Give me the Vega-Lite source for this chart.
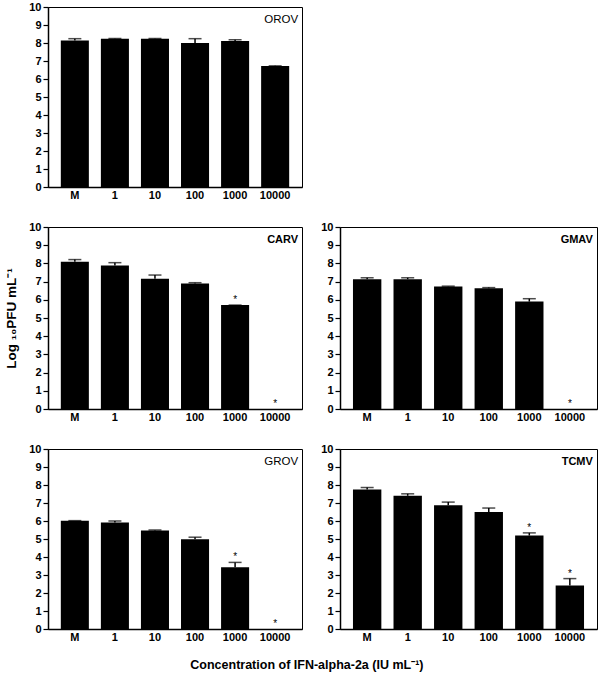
{
  "$schema": "https://vega.github.io/schema/vega-lite/v6.json",
  "padding": {"left": 4, "top": 0, "right": 2, "bottom": 2},
  "config": {
    "font": "Liberation Sans",
    "view": {"stroke": "#000", "strokeWidth": 1},
    "axis": {"grid": false, "domainColor": "#000", "domainWidth": 1.5, "tickColor": "#000", "tickWidth": 1.2, "labelColor": "#000", "labelFont": "Liberation Sans", "labelFontWeight": "bold", "labelFontSize": 11, "labelOverlap": false, "titleFont": "Liberation Sans", "titleFontWeight": "bold", "titleColor": "#000"},
    "axisY": {"tickSize": 5, "labelPadding": 2, "labelOverlap": false},
    "concat": {"spacing": 19}
  },
  "datasets": {
    "d": [
      {"virus": "OROV", "conc": "M", "mean": 8.14, "upper": 8.24, "star": ""},
      {"virus": "OROV", "conc": "1", "mean": 8.23, "upper": 8.25, "star": ""},
      {"virus": "OROV", "conc": "10", "mean": 8.23, "upper": 8.25, "star": ""},
      {"virus": "OROV", "conc": "100", "mean": 8.0, "upper": 8.24, "star": ""},
      {"virus": "OROV", "conc": "1000", "mean": 8.11, "upper": 8.18, "star": ""},
      {"virus": "OROV", "conc": "10000", "mean": 6.72, "upper": 6.73, "star": ""},
      {"virus": "CARV", "conc": "M", "mean": 8.09, "upper": 8.21, "star": ""},
      {"virus": "CARV", "conc": "1", "mean": 7.88, "upper": 8.04, "star": ""},
      {"virus": "CARV", "conc": "10", "mean": 7.16, "upper": 7.36, "star": ""},
      {"virus": "CARV", "conc": "100", "mean": 6.89, "upper": 6.94, "star": ""},
      {"virus": "CARV", "conc": "1000", "mean": 5.71, "upper": 5.71, "star": "*"},
      {"virus": "CARV", "conc": "10000", "mean": 0, "upper": 0, "star": "*"},
      {"virus": "GMAV", "conc": "M", "mean": 7.13, "upper": 7.21, "star": ""},
      {"virus": "GMAV", "conc": "1", "mean": 7.13, "upper": 7.21, "star": ""},
      {"virus": "GMAV", "conc": "10", "mean": 6.73, "upper": 6.75, "star": ""},
      {"virus": "GMAV", "conc": "100", "mean": 6.64, "upper": 6.67, "star": ""},
      {"virus": "GMAV", "conc": "1000", "mean": 5.9, "upper": 6.06, "star": ""},
      {"virus": "GMAV", "conc": "10000", "mean": 0, "upper": 0, "star": "*"},
      {"virus": "GROV", "conc": "M", "mean": 6.02, "upper": 6.02, "star": ""},
      {"virus": "GROV", "conc": "1", "mean": 5.91, "upper": 6.0, "star": ""},
      {"virus": "GROV", "conc": "10", "mean": 5.47, "upper": 5.5, "star": ""},
      {"virus": "GROV", "conc": "100", "mean": 4.99, "upper": 5.1, "star": ""},
      {"virus": "GROV", "conc": "1000", "mean": 3.43, "upper": 3.7, "star": "*"},
      {"virus": "GROV", "conc": "10000", "mean": 0, "upper": 0, "star": "*"},
      {"virus": "TCMV", "conc": "M", "mean": 7.75, "upper": 7.86, "star": ""},
      {"virus": "TCMV", "conc": "1", "mean": 7.4, "upper": 7.51, "star": ""},
      {"virus": "TCMV", "conc": "10", "mean": 6.88, "upper": 7.05, "star": ""},
      {"virus": "TCMV", "conc": "100", "mean": 6.5, "upper": 6.72, "star": ""},
      {"virus": "TCMV", "conc": "1000", "mean": 5.19, "upper": 5.34, "star": "*"},
      {"virus": "TCMV", "conc": "10000", "mean": 2.42, "upper": 2.8, "star": "*"}
    ]
  },
  "title": {"text": "Concentration of IFN-alpha-2a (IU mL⁻¹)", "orient": "bottom", "anchor": "middle", "fontSize": 12.5, "fontWeight": "bold", "offset": 16, "dx": 6, "color": "#000"},
  "vconcat": [
    {
      "width": 254, "height": 180,
      "data": {"name": "d"},
      "transform": [{"filter": "datum.virus === 'OROV'"}],
      "encoding": {
        "x": {"field": "conc", "type": "ordinal", "sort": ["M", "1", "10", "100", "1000", "10000"], "scale": {"paddingInner": 0.3, "paddingOuter": 0.32}, "axis": {"title": null, "labelAngle": 0, "ticks": false, "labelPadding": 2}}
      },
      "layer": [
        {"mark": {"type": "bar", "color": "#000"}, "encoding": {"y": {"field": "mean", "type": "quantitative", "scale": {"domain": [0, 10], "nice": false}, "axis": {"values": [0, 1, 2, 3, 4, 5, 6, 7, 8, 9, 10], "labelOverlap": false, "title": null}}}},
        {"mark": {"type": "rule", "color": "#000", "strokeWidth": 1.5}, "encoding": {"y": {"field": "mean", "type": "quantitative", "axis": {"values": [0, 1, 2, 3, 4, 5, 6, 7, 8, 9, 10], "labelOverlap": false, "title": null}}, "y2": {"field": "upper"}}},
        {"transform": [{"filter": "datum.upper > 0"}], "mark": {"type": "tick", "color": "#000", "thickness": 1.5, "size": 13}, "encoding": {"y": {"field": "upper", "type": "quantitative", "axis": {"values": [0, 1, 2, 3, 4, 5, 6, 7, 8, 9, 10], "labelOverlap": false, "title": null}}}},
        {"mark": {"type": "text", "baseline": "alphabetic", "dy": -2, "fontSize": 10, "color": "#000"}, "encoding": {"y": {"field": "upper", "type": "quantitative", "axis": {"values": [0, 1, 2, 3, 4, 5, 6, 7, 8, 9, 10], "labelOverlap": false, "title": null}}, "text": {"field": "star"}}},
        {"transform": [{"filter": "datum.conc === 'M'"}], "mark": {"type": "text", "align": "right", "baseline": "middle", "fontSize": 11.5, "fontWeight": "normal", "dx": 23, "color": "#000"}, "encoding": {"x": {"datum": "10000"}, "y": {"datum": 9.3, "type": "quantitative", "axis": {"values": [0, 1, 2, 3, 4, 5, 6, 7, 8, 9, 10], "labelOverlap": false, "title": null}}, "text": {"field": "virus"}}}
      ]
    },
    {
      "spacing": 17,
      "hconcat": [
        {
          "width": 254, "height": 182,
          "data": {"name": "d"},
          "transform": [{"filter": "datum.virus === 'CARV'"}],
          "encoding": {
            "x": {"field": "conc", "type": "ordinal", "sort": ["M", "1", "10", "100", "1000", "10000"], "scale": {"paddingInner": 0.3, "paddingOuter": 0.32}, "axis": {"title": null, "labelAngle": 0, "ticks": false, "labelPadding": 2}}
          },
          "layer": [
            {"mark": {"type": "bar", "color": "#000"}, "encoding": {"y": {"field": "mean", "type": "quantitative", "scale": {"domain": [0, 10], "nice": false}, "axis": {"values": [0, 1, 2, 3, 4, 5, 6, 7, 8, 9, 10], "labelOverlap": false, "title": "Log ₁₀PFU mL⁻¹", "titleFontSize": 13.5, "titlePadding": 10}}}},
            {"mark": {"type": "rule", "color": "#000", "strokeWidth": 1.5}, "encoding": {"y": {"field": "mean", "type": "quantitative", "axis": {"values": [0, 1, 2, 3, 4, 5, 6, 7, 8, 9, 10], "labelOverlap": false, "title": "Log ₁₀PFU mL⁻¹", "titleFontSize": 13.5, "titlePadding": 10}}, "y2": {"field": "upper"}}},
            {"transform": [{"filter": "datum.upper > 0"}], "mark": {"type": "tick", "color": "#000", "thickness": 1.5, "size": 13}, "encoding": {"y": {"field": "upper", "type": "quantitative", "axis": {"values": [0, 1, 2, 3, 4, 5, 6, 7, 8, 9, 10], "labelOverlap": false, "title": "Log ₁₀PFU mL⁻¹", "titleFontSize": 13.5, "titlePadding": 10}}}},
            {"mark": {"type": "text", "baseline": "alphabetic", "dy": -2, "fontSize": 10, "color": "#000"}, "encoding": {"y": {"field": "upper", "type": "quantitative", "axis": {"values": [0, 1, 2, 3, 4, 5, 6, 7, 8, 9, 10], "labelOverlap": false, "title": "Log ₁₀PFU mL⁻¹", "titleFontSize": 13.5, "titlePadding": 10}}, "text": {"field": "star"}}},
            {"transform": [{"filter": "datum.conc === 'M'"}], "mark": {"type": "text", "align": "right", "baseline": "middle", "fontSize": 11, "fontWeight": "bold", "dx": 23, "color": "#000"}, "encoding": {"x": {"datum": "10000"}, "y": {"datum": 9.3, "type": "quantitative", "axis": {"values": [0, 1, 2, 3, 4, 5, 6, 7, 8, 9, 10], "labelOverlap": false, "title": "Log ₁₀PFU mL⁻¹", "titleFontSize": 13.5, "titlePadding": 10}}, "text": {"field": "virus"}}}
          ]
        },
        {
          "width": 257, "height": 182,
          "data": {"name": "d"},
          "transform": [{"filter": "datum.virus === 'GMAV'"}],
          "encoding": {
            "x": {"field": "conc", "type": "ordinal", "sort": ["M", "1", "10", "100", "1000", "10000"], "scale": {"paddingInner": 0.3, "paddingOuter": 0.32}, "axis": {"title": null, "labelAngle": 0, "ticks": false, "labelPadding": 2}}
          },
          "layer": [
            {"mark": {"type": "bar", "color": "#000"}, "encoding": {"y": {"field": "mean", "type": "quantitative", "scale": {"domain": [0, 10], "nice": false}, "axis": {"values": [0, 1, 2, 3, 4, 5, 6, 7, 8, 9, 10], "labelOverlap": false, "title": null}}}},
            {"mark": {"type": "rule", "color": "#000", "strokeWidth": 1.5}, "encoding": {"y": {"field": "mean", "type": "quantitative", "axis": {"values": [0, 1, 2, 3, 4, 5, 6, 7, 8, 9, 10], "labelOverlap": false, "title": null}}, "y2": {"field": "upper"}}},
            {"transform": [{"filter": "datum.upper > 0"}], "mark": {"type": "tick", "color": "#000", "thickness": 1.5, "size": 13}, "encoding": {"y": {"field": "upper", "type": "quantitative", "axis": {"values": [0, 1, 2, 3, 4, 5, 6, 7, 8, 9, 10], "labelOverlap": false, "title": null}}}},
            {"mark": {"type": "text", "baseline": "alphabetic", "dy": -2, "fontSize": 10, "color": "#000"}, "encoding": {"y": {"field": "upper", "type": "quantitative", "axis": {"values": [0, 1, 2, 3, 4, 5, 6, 7, 8, 9, 10], "labelOverlap": false, "title": null}}, "text": {"field": "star"}}},
            {"transform": [{"filter": "datum.conc === 'M'"}], "mark": {"type": "text", "align": "right", "baseline": "middle", "fontSize": 11, "fontWeight": "bold", "dx": 23, "color": "#000"}, "encoding": {"x": {"datum": "10000"}, "y": {"datum": 9.3, "type": "quantitative", "axis": {"values": [0, 1, 2, 3, 4, 5, 6, 7, 8, 9, 10], "labelOverlap": false, "title": null}}, "text": {"field": "virus"}}}
          ]
        }
      ]
    },
    {
      "spacing": 17,
      "hconcat": [
        {
          "width": 254, "height": 180,
          "data": {"name": "d"},
          "transform": [{"filter": "datum.virus === 'GROV'"}],
          "encoding": {
            "x": {"field": "conc", "type": "ordinal", "sort": ["M", "1", "10", "100", "1000", "10000"], "scale": {"paddingInner": 0.3, "paddingOuter": 0.32}, "axis": {"title": null, "labelAngle": 0, "ticks": false, "labelPadding": 2}}
          },
          "layer": [
            {"mark": {"type": "bar", "color": "#000"}, "encoding": {"y": {"field": "mean", "type": "quantitative", "scale": {"domain": [0, 10], "nice": false}, "axis": {"values": [0, 1, 2, 3, 4, 5, 6, 7, 8, 9, 10], "labelOverlap": false, "title": null}}}},
            {"mark": {"type": "rule", "color": "#000", "strokeWidth": 1.5}, "encoding": {"y": {"field": "mean", "type": "quantitative", "axis": {"values": [0, 1, 2, 3, 4, 5, 6, 7, 8, 9, 10], "labelOverlap": false, "title": null}}, "y2": {"field": "upper"}}},
            {"transform": [{"filter": "datum.upper > 0"}], "mark": {"type": "tick", "color": "#000", "thickness": 1.5, "size": 13}, "encoding": {"y": {"field": "upper", "type": "quantitative", "axis": {"values": [0, 1, 2, 3, 4, 5, 6, 7, 8, 9, 10], "labelOverlap": false, "title": null}}}},
            {"mark": {"type": "text", "baseline": "alphabetic", "dy": -2, "fontSize": 10, "color": "#000"}, "encoding": {"y": {"field": "upper", "type": "quantitative", "axis": {"values": [0, 1, 2, 3, 4, 5, 6, 7, 8, 9, 10], "labelOverlap": false, "title": null}}, "text": {"field": "star"}}},
            {"transform": [{"filter": "datum.conc === 'M'"}], "mark": {"type": "text", "align": "right", "baseline": "middle", "fontSize": 11.5, "fontWeight": "normal", "dx": 23, "color": "#000"}, "encoding": {"x": {"datum": "10000"}, "y": {"datum": 9.3, "type": "quantitative", "axis": {"values": [0, 1, 2, 3, 4, 5, 6, 7, 8, 9, 10], "labelOverlap": false, "title": null}}, "text": {"field": "virus"}}}
          ]
        },
        {
          "width": 257, "height": 180,
          "data": {"name": "d"},
          "transform": [{"filter": "datum.virus === 'TCMV'"}],
          "encoding": {
            "x": {"field": "conc", "type": "ordinal", "sort": ["M", "1", "10", "100", "1000", "10000"], "scale": {"paddingInner": 0.3, "paddingOuter": 0.32}, "axis": {"title": null, "labelAngle": 0, "ticks": false, "labelPadding": 2}}
          },
          "layer": [
            {"mark": {"type": "bar", "color": "#000"}, "encoding": {"y": {"field": "mean", "type": "quantitative", "scale": {"domain": [0, 10], "nice": false}, "axis": {"values": [0, 1, 2, 3, 4, 5, 6, 7, 8, 9, 10], "labelOverlap": false, "title": null}}}},
            {"mark": {"type": "rule", "color": "#000", "strokeWidth": 1.5}, "encoding": {"y": {"field": "mean", "type": "quantitative", "axis": {"values": [0, 1, 2, 3, 4, 5, 6, 7, 8, 9, 10], "labelOverlap": false, "title": null}}, "y2": {"field": "upper"}}},
            {"transform": [{"filter": "datum.upper > 0"}], "mark": {"type": "tick", "color": "#000", "thickness": 1.5, "size": 13}, "encoding": {"y": {"field": "upper", "type": "quantitative", "axis": {"values": [0, 1, 2, 3, 4, 5, 6, 7, 8, 9, 10], "labelOverlap": false, "title": null}}}},
            {"mark": {"type": "text", "baseline": "alphabetic", "dy": -2, "fontSize": 10, "color": "#000"}, "encoding": {"y": {"field": "upper", "type": "quantitative", "axis": {"values": [0, 1, 2, 3, 4, 5, 6, 7, 8, 9, 10], "labelOverlap": false, "title": null}}, "text": {"field": "star"}}},
            {"transform": [{"filter": "datum.conc === 'M'"}], "mark": {"type": "text", "align": "right", "baseline": "middle", "fontSize": 11, "fontWeight": "bold", "dx": 23, "color": "#000"}, "encoding": {"x": {"datum": "10000"}, "y": {"datum": 9.3, "type": "quantitative", "axis": {"values": [0, 1, 2, 3, 4, 5, 6, 7, 8, 9, 10], "labelOverlap": false, "title": null}}, "text": {"field": "virus"}}}
          ]
        }
      ]
    }
  ]
}
